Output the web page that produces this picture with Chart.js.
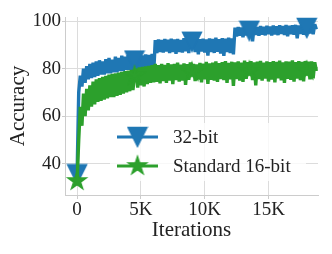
<!DOCTYPE html>
<html>
<head>
<script src="https://cdn.jsdelivr.net/npm/chart.js"></script>
<style>
  body { margin: 0; background: #fff; }
  #c { display: block; }
</style>
</head>
<body>
<canvas id="c" width="332" height="254"></canvas>
<script>
// iterations (x) for both runs
const iters = [
  0,125,250,375,500,625,750,875,1000,1125,
  1250,1375,1500,1625,1750,1875,2000,2125,2250,2375,
  2500,2625,2750,2875,3000,3125,3250,3375,3500,3625,
  3750,3875,4000,4125,4250,4375,4500,4625,4750,4875,
  5000,5125,5250,5375,5500,5625,5750,5875,6000,6125,
  6250,6375,6500,6625,6750,6875,7000,7125,7250,7375,
  7500,7625,7750,7875,8000,8125,8250,8375,8500,8625,
  8750,8875,9000,9125,9250,9375,9500,9625,9750,9875,
  10000,10125,10250,10375,10500,10625,10750,10875,11000,11125,
  11250,11375,11500,11625,11750,11875,12000,12125,12250,12375,
  12500,12625,12750,12875,13000,13125,13250,13375,13500,13625,
  13750,13875,14000,14125,14250,14375,14500,14625,14750,14875,
  15000,15125,15250,15375,15500,15625,15750,15875,16000,16125,
  16250,16375,16500,16625,16750,16875,17000,17125,17250,17375,
  17500,17625,17750,17875,18000,18125,18250,18375,18500,18625,
  18750
];

const acc32 = [
  35.6,70.0,77.0,72.5,80.0,74.0,81.0,75.5,82.0,76.0,
  82.5,76.5,83.0,77.0,83.5,77.5,83.0,77.5,84.0,78.0,
  84.5,78.0,83.8,78.5,85.0,78.5,84.5,79.0,85.5,79.0,
  85.0,79.5,85.8,79.5,85.2,79.0,83.4,85.5,79.5,86.0,
  80.0,85.5,79.5,86.0,79.8,85.8,79.0,86.2,78.0,92.0,
  86.5,92.3,87.0,92.0,86.8,92.5,87.2,92.2,86.5,92.6,
  87.0,92.3,86.2,92.5,87.0,92.0,86.8,92.8,87.3,92.4,
  86.5,92.6,91.3,92.5,87.0,92.8,86.0,92.4,87.2,92.6,
  86.8,92.3,85.5,92.7,87.0,92.5,86.6,93.0,87.1,92.4,
  86.3,92.8,85.4,92.6,87.0,93.0,86.5,92.7,86.0,97.2,
  93.5,97.5,93.8,97.3,93.2,97.6,94.0,97.4,95.9,97.5,
  91.5,97.8,94.2,97.5,93.8,97.9,94.3,97.6,94.0,98.0,
  94.5,97.7,93.9,98.1,94.4,97.8,94.1,98.2,94.6,97.9,
  94.2,98.3,93.6,98.0,94.5,98.2,94.3,98.4,92.8,98.1,
  94.6,98.5,94.2,98.3,97.1,98.6,94.8,98.4,94.5,98.6,
  96.5
];

const acc16 = [
  32.8,50.0,64.0,56.0,69.5,60.0,71.5,62.5,73.0,64.0,
  74.5,65.0,75.5,66.0,76.0,66.5,76.5,67.0,77.0,67.5,
  77.5,68.0,77.8,68.0,78.0,68.5,78.3,69.0,78.6,69.5,
  79.0,70.0,79.2,70.5,79.5,71.0,77.0,80.0,72.0,80.5,
  73.0,80.7,72.5,81.0,73.5,81.2,74.0,81.5,74.2,82.0,
  74.5,81.5,73.8,82.0,74.8,81.6,74.0,82.3,75.0,81.8,
  73.5,82.0,75.2,82.5,74.6,81.7,75.0,82.2,73.2,81.9,
  75.3,82.6,78.5,82.0,74.8,81.8,75.4,82.4,74.2,82.1,
  75.5,82.8,73.6,82.2,75.3,82.5,75.0,83.0,74.4,82.3,
  75.6,82.7,75.2,83.2,74.0,82.4,75.5,82.9,72.8,82.6,
  75.6,83.0,75.0,82.5,74.4,83.4,75.7,82.7,79.0,83.1,
  75.2,82.6,73.0,82.9,75.6,83.3,75.0,82.5,75.8,83.0,
  74.6,82.7,75.4,83.2,74.2,82.8,75.9,83.4,75.1,82.6,
  74.0,83.0,75.7,82.9,75.3,83.5,74.5,82.7,75.8,83.1,
  75.2,82.8,74.7,83.2,79.0,82.9,75.5,83.0,75.9,82.7,
  79.0
];

const markerIters = [0, 4500, 9000, 13500, 18000];
const xTicks = [0, 5000, 10000, 15000];
const xTickLabels = ['0', '5K', '10K', '15K'];
const yTicks = [40, 60, 80, 100];

const BLUE = '#1f77b4';
const GREEN = '#2ca02c';
const FONT = "'Liberation Serif', serif";

// matplotlib-like marker shapes
function triDown(color) {
  const c = document.createElement('canvas');
  c.width = 22; c.height = 22;
  const g = c.getContext('2d');
  g.fillStyle = color; g.strokeStyle = color; g.lineWidth = 1.4;
  g.beginPath();
  g.moveTo(1.5, 1.5); g.lineTo(20.5, 1.5); g.lineTo(11, 20.5);
  g.closePath(); g.fill(); g.stroke();
  return c;
}
function star(color) {
  const c = document.createElement('canvas');
  c.width = 24; c.height = 24;
  const g = c.getContext('2d');
  g.fillStyle = color; g.strokeStyle = color; g.lineWidth = 1.4;
  const R = 9.6, r = R * 0.381966;
  g.beginPath();
  for (let i = 0; i < 10; i++) {
    const a = Math.PI / 2 + i * Math.PI / 5;
    const rad = i % 2 ? r : R;
    const px = 12 + rad * Math.cos(a), py = 12 - rad * Math.sin(a);
    if (i === 0) g.moveTo(px, py); else g.lineTo(px, py);
  }
  g.closePath(); g.fill(); g.stroke();
  return c;
}
const triImg = triDown(BLUE);
const starImg = star(GREEN);

const pts = ys => iters.map((x, i) => ({ x: x, y: ys[i] }));
const markR = c => markerIters.includes(iters[c.dataIndex]) ? 10 : 0;

// legend drawn inside the plot area
const innerLegend = {
  id: 'innerLegend',
  afterDraw(chart) {
    const ctx = chart.ctx;
    ctx.save();
    ctx.fillStyle = 'rgba(255,255,255,0.8)';
    ctx.fillRect(110, 123, 196, 58);
    const rows = [137, 166];
    chart.data.datasets.forEach((ds, i) => {
      const y = rows[i];
      ctx.strokeStyle = ds.borderColor;
      ctx.lineWidth = 3;
      ctx.beginPath();
      ctx.moveTo(117, y); ctx.lineTo(158, y);
      ctx.stroke();
      const img = ds.pointStyle;
      ctx.drawImage(img, 137.5 - img.width / 2, y - img.height / 2);
      ctx.fillStyle = '#222';
      ctx.font = '19px ' + FONT;
      ctx.textBaseline = 'middle';
      ctx.fillText(ds.label, 173, y + 1);
    });
    ctx.restore();
  }
};

new Chart(document.getElementById('c'), {
  type: 'line',
  data: {
    datasets: [
      {
        label: '32-bit',
        data: pts(acc32),
        borderColor: BLUE,
        backgroundColor: BLUE,
        borderWidth: 3.4,
        borderJoinStyle: 'bevel',
        pointStyle: triImg,
        pointRadius: markR,
        order: 2
      },
      {
        label: 'Standard 16-bit',
        data: pts(acc16),
        borderColor: GREEN,
        backgroundColor: GREEN,
        borderWidth: 3.4,
        borderJoinStyle: 'bevel',
        pointStyle: starImg,
        pointRadius: markR,
        order: 1
      }
    ]
  },
  options: {
    responsive: false,
    animation: false,
    layout: { padding: { top: 17, right: 14, left: 0, bottom: 0 } },
    elements: { line: { tension: 0 } },
    plugins: { legend: { display: false }, tooltip: { enabled: false } },
    scales: {
      x: {
        type: 'linear',
        min: -950,
        max: 18880,
        afterBuildTicks: s => { s.ticks = xTicks.map(v => ({ value: v })); },
        afterFit: s => { s.height = 59; },
        ticks: {
          callback: (v) => xTickLabels[xTicks.indexOf(v)],
          color: '#222',
          font: { family: FONT, size: 19 },
          padding: 0,
          maxRotation: 0
        },
        grid: { color: '#dcdcdc', lineWidth: 1, tickLength: 4, tickColor: '#cccccc' },
        border: { color: '#cccccc', width: 1 },
        title: {
          display: true,
          text: 'Iterations',
          color: '#222',
          font: { family: FONT, size: 21 },
          padding: { top: 0, bottom: 11 }
        }
      },
      y: {
        min: 26.9,
        max: 101.7,
        afterBuildTicks: s => { s.ticks = yTicks.map(v => ({ value: v })); },
        afterFit: s => { s.width = 65; },
        ticks: {
          color: '#222',
          font: { family: FONT, size: 19 },
          padding: 1
        },
        grid: { color: '#dcdcdc', lineWidth: 1, tickLength: 3, tickColor: '#cccccc' },
        border: { color: '#cccccc', width: 1 },
        title: {
          display: true,
          text: 'Accuracy',
          color: '#222',
          font: { family: FONT, size: 21 },
          padding: { top: 6, bottom: 0 }
        }
      }
    }
  },
  plugins: [innerLegend]
});
</script>
</body>
</html>
